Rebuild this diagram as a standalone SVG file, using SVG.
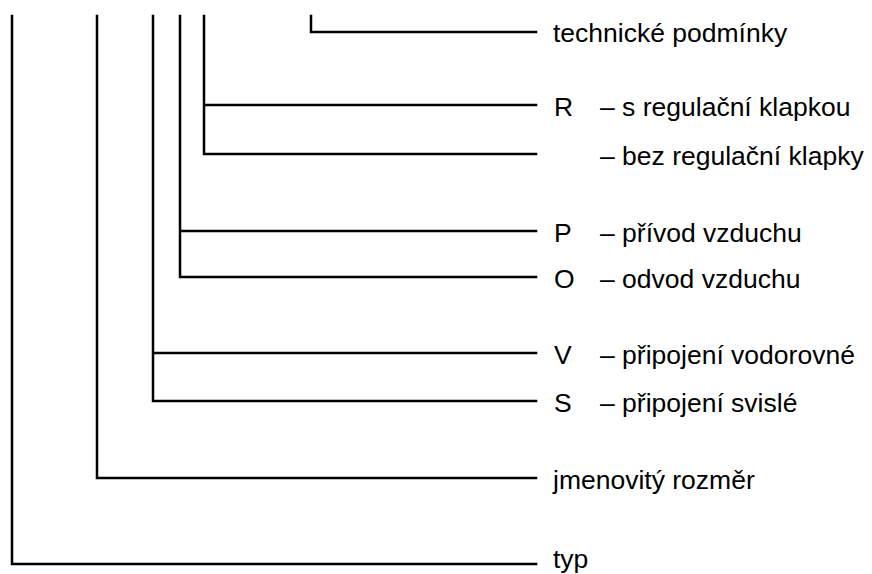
<svg xmlns="http://www.w3.org/2000/svg" width="872" height="574" viewBox="0 0 872 574">
  <style>
    .ln { fill: none; stroke: #000; stroke-width: 2.5; stroke-linecap: square; }
    text { font-family: "Liberation Sans", Arial, sans-serif; font-size: 26.5px; fill: #000; }
  </style>
  <rect width="872" height="574" fill="#fff"/>
  <g id="connectors">
    <!-- typ -->
    <path class="ln" d="M12 16 V564 H536"/>
    <!-- jmenovitý rozměr -->
    <path class="ln" d="M97 16 V478 H536"/>
    <!-- připojení vodorovné / svislé -->
    <path class="ln" d="M153 16 V401 H536 M153 353 H536"/>
    <!-- přívod / odvod vzduchu -->
    <path class="ln" d="M180 16 V277 H536 M180 231 H536"/>
    <!-- s / bez regulační klapky -->
    <path class="ln" d="M204 16 V154 H536 M204 105 H536"/>
    <!-- technické podmínky -->
    <path class="ln" d="M311 16 V32 H536"/>
  </g>
  <g id="label-tp"><text x="553" y="42">technické podmínky</text></g>
  <g id="label-r"><text x="554" y="116">R</text><text x="600" y="116">– s regulační klapkou</text></g>
  <g id="label-bez"><text x="600" y="165">– bez regulační klapky</text></g>
  <g id="label-p"><text x="554" y="242">P</text><text x="600" y="242">– přívod vzduchu</text></g>
  <g id="label-o"><text x="554" y="288">O</text><text x="600" y="288">– odvod vzduchu</text></g>
  <g id="label-v"><text x="554" y="364">V</text><text x="600" y="364">– připojení vodorovné</text></g>
  <g id="label-s"><text x="554" y="412">S</text><text x="600" y="412">– připojení svislé</text></g>
  <g id="label-jr"><text x="553" y="489">jmenovitý rozměr</text></g>
  <g id="label-typ"><text x="553" y="568">typ</text></g>
</svg>
